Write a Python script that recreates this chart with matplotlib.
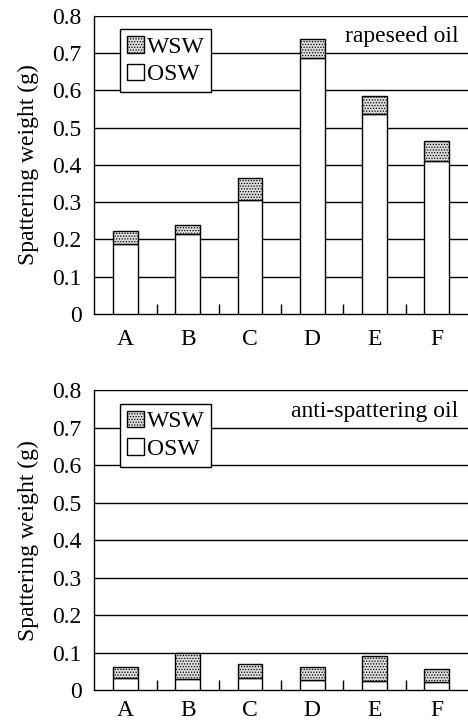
import matplotlib
matplotlib.use("Agg")
import matplotlib.pyplot as plt
from matplotlib.patches import Patch
import numpy as np

categories = ["A", "B", "C", "D", "E", "F"]

# rapeseed oil: OSW and total (OSW + WSW) spattering weight, g
rapeseed_osw = [0.187, 0.214, 0.305, 0.686, 0.536, 0.409]
rapeseed_total = [0.223, 0.240, 0.364, 0.738, 0.585, 0.464]

# anti-spattering oil
anti_osw = [0.032, 0.029, 0.032, 0.026, 0.023, 0.021]
anti_total = [0.060, 0.099, 0.068, 0.060, 0.092, 0.057]

y_ticks = [0, 0.1, 0.2, 0.3, 0.4, 0.5, 0.6, 0.7, 0.8]
y_tick_labels = ["0", "0.1", "0.2", "0.3", "0.4", "0.5", "0.6", "0.7", "0.8"]

plt.rcParams["font.family"] = ["Liberation Serif", "DejaVu Serif"]
plt.rcParams["hatch.color"] = "#8a8a8a"
plt.rcParams["hatch.linewidth"] = 0.6

FS = 17
WSW_FACE = "#dcdcdc"

fig = plt.figure(figsize=(4.68, 7.24), dpi=100)
ax_top = fig.add_axes([0.2015, 0.5663, 0.7985, 0.412])
ax_bot = fig.add_axes([0.2015, 0.047, 0.7985, 0.414])


def draw(ax, osw, total, label, xpad):
    x = np.arange(len(categories))
    wsw = [t - o for t, o in zip(total, osw)]
    ax.set_xlim(-0.5, len(categories) - 0.5)
    ax.set_ylim(0, 0.8)
    for y in y_ticks[1:]:
        ax.axhline(y, color="black", lw=1.0, zorder=1)
    ax.bar(x, osw, width=0.4, color="white", edgecolor="black", lw=1.0, zorder=3)
    ax.bar(x, wsw, bottom=osw, width=0.4, color=WSW_FACE, edgecolor="black",
           lw=1.0, hatch="......", zorder=3)
    for s in ("top", "right"):
        ax.spines[s].set_visible(False)
    for s in ("left", "bottom"):
        ax.spines[s].set_linewidth(1.0)
    ax.set_yticks(y_ticks)
    ax.set_yticklabels(y_tick_labels, fontsize=FS)
    ax.tick_params(axis="y", length=0, pad=9)
    ax.set_xticks(x)
    ax.set_xticklabels(categories, fontsize=FS)
    ax.tick_params(axis="x", which="major", length=0, pad=xpad)
    ax.set_xticks(np.arange(0.5, len(categories) - 1, 1.0), minor=True)
    ax.tick_params(axis="x", which="minor", direction="in", length=7, width=1.0)
    ax.set_ylabel("Spattering weight (g)", fontsize=FS, labelpad=10)
    ax.text(0.975, 0.93, label, transform=ax.transAxes, ha="right",
            va="center", fontsize=FS, zorder=5,
            bbox=dict(facecolor="white", edgecolor="none", pad=1))
    handles = [
        Patch(facecolor=WSW_FACE, edgecolor="black", hatch="......", label="WSW"),
        Patch(facecolor="white", edgecolor="black", label="OSW"),
    ]
    leg = ax.legend(handles=handles, loc="upper left",
                    bbox_to_anchor=(0.069, 0.955), fontsize=FS,
                    handlelength=0.7, handleheight=0.7, handletextpad=0.12,
                    borderpad=0.3, labelspacing=0.25, fancybox=False,
                    framealpha=1, edgecolor="black", borderaxespad=0)
    leg.get_frame().set_linewidth(1.0)
    leg.set_zorder(6)


draw(ax_top, rapeseed_osw, rapeseed_total, "rapeseed oil", 11)
draw(ax_bot, anti_osw, anti_total, "anti-spattering oil", 7)

fig.savefig("out.png", dpi=100)
